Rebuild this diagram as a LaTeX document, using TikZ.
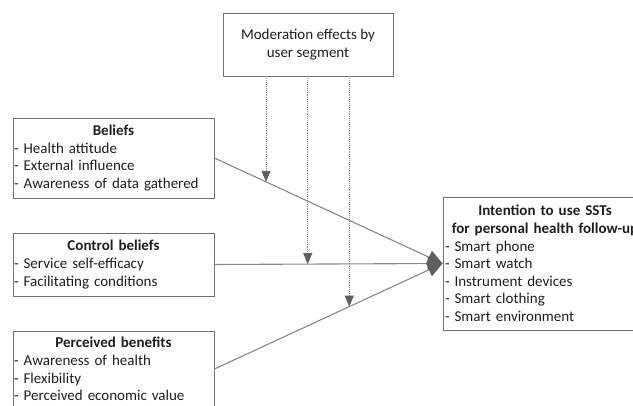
\documentclass[tikz,border=0pt]{standalone}
\usepackage{fontspec}
\setmainfont{Carlito}
\usepackage{tikz}
\usetikzlibrary{calc,shapes,positioning}
\usetikzlibrary{arrows.meta}
\definecolor{boxgray}{RGB}{115,115,115}
\definecolor{linegray}{RGB}{135,135,135}
\definecolor{tipgray}{RGB}{95,95,95}
\definecolor{txtgray}{RGB}{30,30,30}
\tikzset{>={Triangle[length=14pt,width=13pt]}}

\begin{document}
\begin{tikzpicture}[x=1pt,y=-1pt]
      \tikzstyle{bnode} = [draw=boxgray, line width=0.9pt, rectangle, inner xsep=1pt, inner ysep=0pt, align=left, text=txtgray, font=\fontsize{15}{17.6}\selectfont]
      \tikzstyle{mline} = [linegray, line width=1.1pt, ->, >={Triangle[length=15pt,width=14pt,color=tipgray,fill=tipgray]}]
      \tikzstyle{dline} = [linegray, line width=0.9pt, densely dotted, ->, >={Triangle[length=11pt,width=9pt,color=tipgray,fill=tipgray]}]

      \useasboundingbox (0,0) rectangle (633,406);
      \clip (0,0) rectangle (633,406);

      \node[bnode, align=center, minimum width=170pt, minimum height=63pt] (mod) at (308,44.5) {Moderation effects by\\ user segment};
      \node[bnode, text width=199pt, minimum height=80pt] (bel) at (113.5,158) {\makebox[\hsize]{\textbf{Beliefs}}\\ - Health attitude\\ - External influence\\ - Awareness of data gathered};
      \node[bnode, text width=199pt, minimum height=63pt] (ctl) at (113.5,264.5) {\makebox[\hsize]{\textbf{Control beliefs}}\\ - Service self-efficacy\\ - Facilitating conditions};
      \node[bnode, text width=199pt, minimum height=76pt] (ben) at (113.5,369) {\makebox[\hsize]{\textbf{Perceived benefits}}\\ - Awareness of health\\ - Flexibility\\ - Perceived economic value};
      \node[bnode, text width=200pt, minimum height=133pt, inner xsep=2pt] (int) at (545,263.5) {\makebox[\hsize]{\textbf{Intention to use SSTs}}\\ \makebox[\hsize]{\textbf{for personal health follow-up}}\\ - Smart phone\\ - Smart watch\\ - Instrument devices\\ - Smart clothing\\ - Smart environment};

      \draw[mline] (bel.east) -- coordinate[pos=0.226] (mb) (int.west);
      \draw[mline] (ctl.east) -- coordinate[pos=0.409] (mc) (int.west);
      \draw[mline] (ben.east) -- coordinate[pos=0.591] (mp) (int.west);

      \draw[dline] (mod.south -| mb) -- (mb);
      \draw[dline] (mod.south -| mc) -- (mc);
      \draw[dline] (mod.south -| mp) -- (mp);
    \end{tikzpicture}
\end{document}
